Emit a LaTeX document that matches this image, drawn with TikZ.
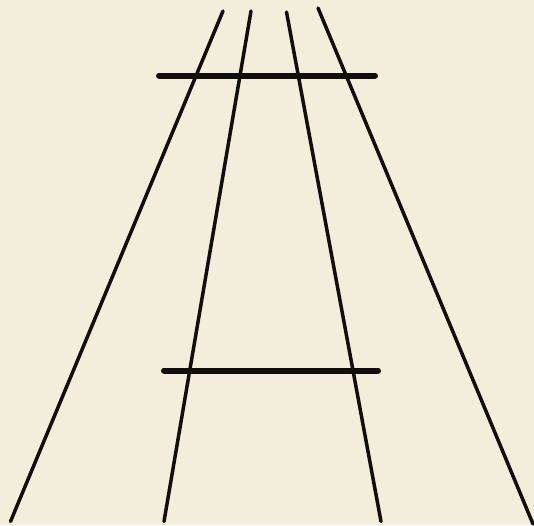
\documentclass[tikz,border=0pt]{standalone}
\definecolor{bg}{HTML}{F3EEDC}
\definecolor{ink}{HTML}{120E0E}
\begin{document}
\begin{tikzpicture}[x=1pt,y=-1pt,
  ray/.style={draw=ink,line width=3.5pt,line cap=round},
  bar/.style={draw=ink,line width=6pt,line cap=round}]
\fill[bg] (0,0) rectangle (534,525);
\useasboundingbox (0,0) rectangle (534,525);
\coordinate (a1) at (223,11);
\coordinate (a2) at (10.5,521.5);
\coordinate (b1) at (251,11);
\coordinate (b2) at (164,521.5);
\coordinate (c1) at (286.5,12);
\coordinate (c2) at (381,521.5);
\coordinate (d1) at (318,8);
\coordinate (d2) at (533,524);
\coordinate (t1) at (159,75.5);
\coordinate (t2) at (375,75.5);
\coordinate (u1) at (164,370.5);
\coordinate (u2) at (378,370.5);
\draw[ray] (a1) -- (a2);
\draw[ray] (b1) -- (b2);
\draw[ray] (c1) -- (c2);
\draw[ray] (d1) -- (d2);
\draw[bar] (t1) -- (t2);
\draw[bar] (u1) -- (u2);
\end{tikzpicture}
\end{document}
